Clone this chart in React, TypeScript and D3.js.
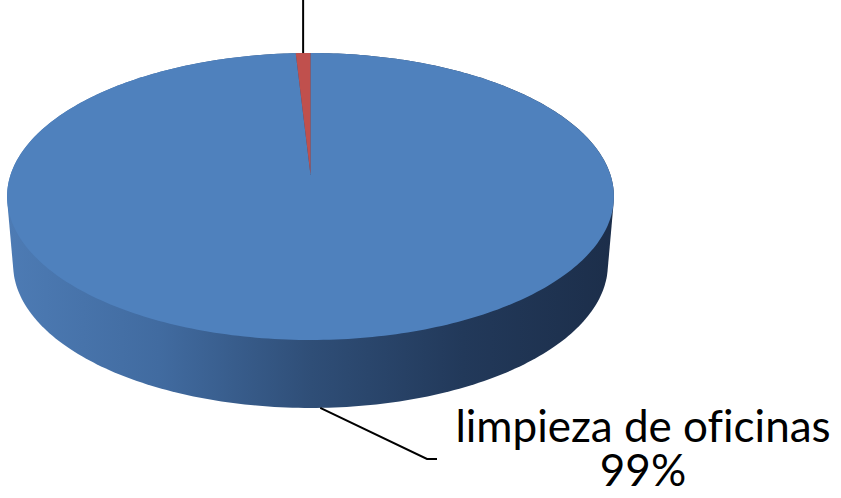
import React from "react";
import * as d3 from "d3";

const categories = ["limpieza de oficinas", "otros"];
const values = [99.1, 0.9];
const percentLabels = ["99%", "1%"];
const colors = ["#4f81bd", "#c0504d"];

const W = 841;
const H = 498;

// perspective projection parameters of the pie top
const CX = 310.5;
const A = 300;
const C = -0.1498;
const D = 114.06;
const E = 175;
const DEPTH = 68;
const BOTTOM_SCALE = 0.98;

function proj(theta: number, r = 1, down = 0, scale = 1): [number, number] {
  const u = r * Math.sin(theta);
  const v = -r * Math.cos(theta);
  const den = 1 + C * v;
  return [CX + (scale * A * u) / den, (D * v + E) / den + down];
}

export default function App() {
  const pie = d3.pie<number>().sort(null).value((d) => d);
  const arcs = pie(values);

  const slicePath = (a0: number, a1: number) => {
    const n = Math.max(4, Math.ceil(((a1 - a0) / (2 * Math.PI)) * 360));
    const pts: [number, number][] = [proj(0, 0)];
    for (let i = 0; i <= n; i++) pts.push(proj(a0 + ((a1 - a0) * i) / n));
    return d3.line()(pts) + "Z";
  };

  // side silhouette: hull of top rim and bottom rim
  const rim: [number, number][] = [];
  for (let i = 0; i < 360; i++) {
    const t = (i / 360) * 2 * Math.PI;
    rim.push(proj(t));
    rim.push(proj(t, 1, DEPTH, BOTTOM_SCALE));
  }
  const hull = d3.polygonHull(rim) as [number, number][];

  // leader lines
  const redMid = (arcs[1].startAngle + arcs[1].endAngle) / 2;
  const redTop = proj(redMid);
  const blueMid = (arcs[0].startAngle + arcs[0].endAngle) / 2;
  const blueStart = proj(blueMid, 1, DEPTH, BOTTOM_SCALE);

  return (
    <svg
      width={W}
      height={H}
      style={{ position: "absolute", left: 0, top: 0, background: "#fff", fontVariantLigatures: "none" }}
      fontFamily="Lato, 'Open Sans', sans-serif"
    >
      <defs>
        <linearGradient id="side" x1="8" x2="614" y1="0" y2="0" gradientUnits="userSpaceOnUse">
          <stop offset="0" stopColor="#4d7bb4" />
          <stop offset="0.25" stopColor="#416ba0" />
          <stop offset="0.5" stopColor="#2f4e77" />
          <stop offset="0.75" stopColor="#22395a" />
          <stop offset="1" stopColor="#1c2e4a" />
        </linearGradient>
      </defs>
      <path d={d3.line()(hull) + "Z"} fill="url(#side)" />
      {arcs.map((a, i) => (
        <path key={i} d={slicePath(a.startAngle, a.endAngle)} fill={colors[i]} />
      ))}
      <line x1={redTop[0]} y1={redTop[1]} x2={redTop[0]} y2={0} stroke="#000" strokeWidth={2} />
      <polyline
        points={`${blueStart[0]},${blueStart[1]} 427,459 437,459`}
        fill="none"
        stroke="#000"
        strokeWidth={2}
      />
      <text x={643} y={442} textAnchor="middle" fontSize={44} fill="#000">
        {categories[0]}
      </text>
      <text x={643} y={486} textAnchor="middle" fontSize={44} fill="#000">
        {percentLabels[0]}
      </text>
    </svg>
  );
}
